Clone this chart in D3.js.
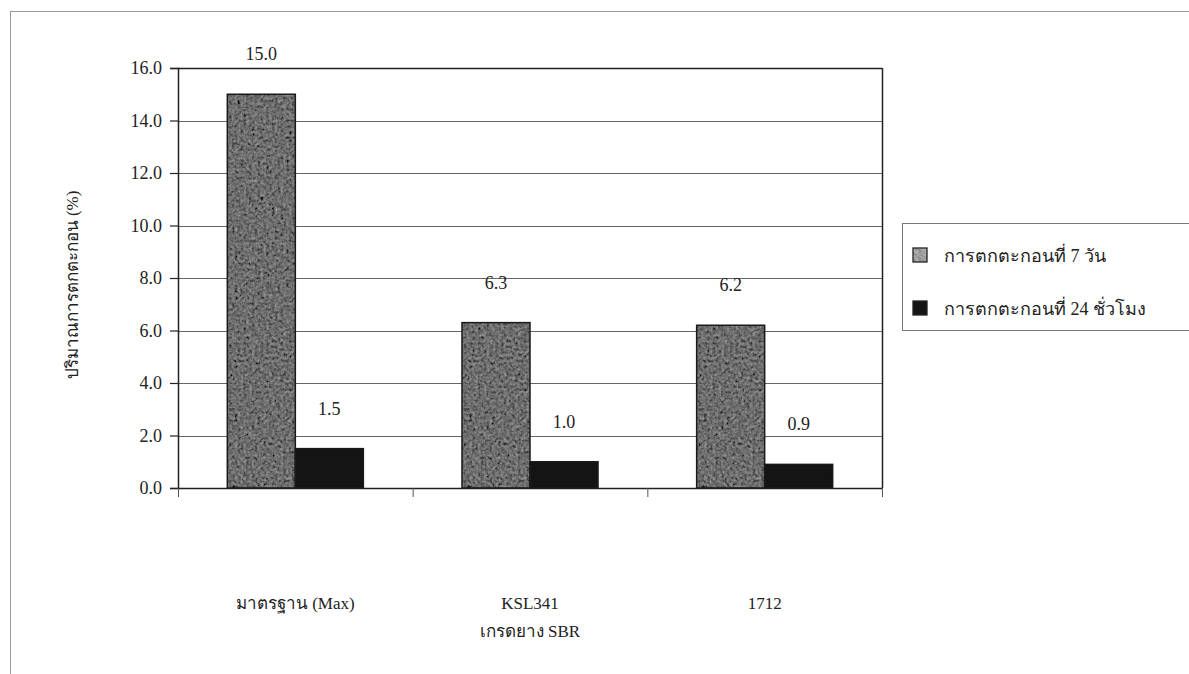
<!DOCTYPE html>
<html>
<head>
<meta charset="utf-8">
<script src="https://cdn.jsdelivr.net/npm/d3@7"></script>
<style>
  html, body { margin: 0; padding: 0; background: #fff; }
  svg { display: block; }
</style>
</head>
<body>
<svg id="chart" width="1189" height="674"></svg>
<script>
// Sedimentation of SBR grades (%)
const categories = ["มาตรฐาน (Max)", "KSL341", "1712"];
const seriesNames = ["การตกตะกอนที่ 7 วัน", "การตกตะกอนที่ 24 ชั่วโมง"];
const sevenDay = [15.0, 6.3, 6.2];
const twentyFourHour = [1.5, 1.0, 0.9];
const yTicks = [0, 2, 4, 6, 8, 10, 12, 14, 16];
const yTitle = "ปริมาณการตกตะกอน (%)";
const xTitle = "เกรดยาง SBR";

const FONT = "'Times New Roman', 'Liberation Serif', 'DejaVu Serif', serif";

const rows = categories.map((c, i) => ({
  cat: c,
  values: [
    { key: seriesNames[0], v: sevenDay[i] },
    { key: seriesNames[1], v: twentyFourHour[i] }
  ]
}));

const svg = d3.select("#chart");
const plot = { left: 178, right: 882, top: 68, bottom: 488 };

// mottled texture for the 7-day bars
const defs = svg.append("defs");
const f = defs.append("filter").attr("id", "grain")
  .attr("x", 0).attr("y", 0).attr("width", 1).attr("height", 1)
  .attr("filterUnits", "objectBoundingBox");
f.append("feTurbulence").attr("type", "fractalNoise")
  .attr("baseFrequency", 0.35).attr("numOctaves", 3).attr("seed", 11).attr("result", "noise");
f.append("feColorMatrix").attr("in", "noise").attr("type", "matrix")
  .attr("values", "0.33 0.33 0.33 0 0  0.33 0.33 0.33 0 0  0.33 0.33 0.33 0 0  0 0 0 0 1")
  .attr("result", "gray");
f.append("feComposite").attr("in", "SourceGraphic").attr("in2", "gray")
  .attr("operator", "arithmetic")
  .attr("k1", 0).attr("k2", 1).attr("k3", 0.7).attr("k4", -0.35).attr("result", "mix");
f.append("feComposite").attr("in", "mix").attr("in2", "SourceGraphic").attr("operator", "in");

// outer frame
svg.append("rect").attr("x", 10.5).attr("y", 11.5)
  .attr("width", 1200).attr("height", 700)
  .attr("fill", "none").attr("stroke", "#999").attr("stroke-width", 1);

const y = d3.scaleLinear().domain([0, 16]).range([plot.bottom, plot.top]);
const x0 = d3.scaleBand().domain(categories).range([plot.left, plot.right])
  .paddingInner(0).paddingOuter(0);
const x1 = d3.scaleBand().domain(seriesNames).range([0, x0.bandwidth()])
  .paddingInner(0).paddingOuter(0.725);
const fill = d3.scaleOrdinal().domain(seriesNames).range(["#6e6e6e", "#141414"]);

// gridlines
svg.append("g").selectAll("line").data(yTicks.filter(t => t > 0 && t < 16)).join("line")
  .attr("x1", plot.left).attr("x2", plot.right)
  .attr("y1", d => Math.round(y(d)) + 0.5).attr("y2", d => Math.round(y(d)) + 0.5)
  .attr("stroke", "#666").attr("stroke-width", 1.2);

// plot frame top & right
svg.append("line").attr("x1", plot.left).attr("x2", plot.right)
  .attr("y1", plot.top + 0.5).attr("y2", plot.top + 0.5)
  .attr("stroke", "#222").attr("stroke-width", 1.5);
svg.append("line").attr("x1", plot.right + 0.5).attr("x2", plot.right + 0.5)
  .attr("y1", plot.top).attr("y2", plot.bottom)
  .attr("stroke", "#222").attr("stroke-width", 1.5);

// bars: textured fill plus a crisp outline
const groups = svg.append("g").selectAll("g").data(rows).join("g")
  .attr("transform", d => `translate(${x0(d.cat)},0)`);
groups.selectAll("rect.fill").data(d => d.values).join("rect")
  .attr("class", "fill")
  .attr("x", d => x1(d.key))
  .attr("y", d => y(d.v))
  .attr("width", x1.bandwidth())
  .attr("height", d => plot.bottom - y(d.v))
  .attr("fill", d => fill(d.key))
  .attr("filter", (d, i) => i === 0 ? "url(#grain)" : null);
groups.selectAll("rect.edge").data(d => d.values).join("rect")
  .attr("class", "edge")
  .attr("x", d => x1(d.key))
  .attr("y", d => y(d.v))
  .attr("width", x1.bandwidth())
  .attr("height", d => plot.bottom - y(d.v))
  .attr("fill", "none")
  .attr("stroke", "#1a1a1a").attr("stroke-width", 1.5);

// value labels
groups.selectAll("text.val").data(d => d.values).join("text")
  .attr("class", "val")
  .attr("x", d => x1(d.key) + x1.bandwidth() / 2)
  .attr("y", d => y(d.v) - 34)
  .attr("text-anchor", "middle")
  .style("font-family", FONT).style("font-size", "18px").style("fill", "#222")
  .text(d => d.v.toFixed(1));

// y axis
const yAxis = d3.axisLeft(y).tickValues(yTicks).tickFormat(d3.format(".1f"))
  .tickSize(8).tickPadding(8);
const gy = svg.append("g").attr("transform", `translate(${plot.left},0)`).call(yAxis);
gy.select(".domain").attr("stroke", "#222").attr("stroke-width", 1.5);
gy.selectAll(".tick line").attr("stroke", "#222").attr("stroke-width", 1.2);
gy.selectAll(".tick text")
  .style("font-family", FONT).style("font-size", "18px").style("fill", "#222");

// x axis
const gx = svg.append("g").attr("transform", `translate(0,${plot.bottom})`);
gx.append("line").attr("x1", plot.left).attr("x2", plot.right)
  .attr("y1", 0.5).attr("y2", 0.5).attr("stroke", "#222").attr("stroke-width", 1.5);
const boundaries = categories.map(c => x0(c)).concat([plot.right]);
gx.selectAll("line.tk").data(boundaries).join("line").attr("class", "tk")
  .attr("x1", d => d + 0.5).attr("x2", d => d + 0.5)
  .attr("y1", 0).attr("y2", 9).attr("stroke", "#555").attr("stroke-width", 1);
gx.selectAll("text.cat").data(categories).join("text").attr("class", "cat")
  .attr("x", d => x0(d) + x0.bandwidth() / 2)
  .attr("y", 121)
  .attr("text-anchor", "middle")
  .style("font-family", FONT).style("font-size", "17px").style("fill", "#222")
  .text(d => d);

// axis titles
svg.append("text")
  .attr("transform", "translate(78,285) rotate(-90)")
  .attr("text-anchor", "middle")
  .style("font-family", FONT).style("font-size", "17px").style("fill", "#222")
  .text(yTitle);
svg.append("text")
  .attr("x", (plot.left + plot.right) / 2)
  .attr("y", 637)
  .attr("text-anchor", "middle")
  .style("font-family", FONT).style("font-size", "17px").style("fill", "#222")
  .text(xTitle);

// legend
const lg = svg.append("g");
lg.append("rect").attr("x", 902.5).attr("y", 223.5).attr("width", 300).attr("height", 107)
  .attr("fill", "#fff").attr("stroke", "#777").attr("stroke-width", 1);
const items = lg.selectAll("g.item").data(seriesNames).join("g").attr("class", "item")
  .attr("transform", (d, i) => `translate(913,${248 + i * 53})`);
items.append("rect").attr("width", 14).attr("height", 14)
  .attr("fill", (d, i) => i === 0 ? "#a0a0a0" : "#151515")
  .attr("filter", (d, i) => i === 0 ? "url(#grain)" : null);
items.append("rect").attr("width", 14).attr("height", 14)
  .attr("fill", "none").attr("stroke", "#222").attr("stroke-width", 1.3);
items.append("text").attr("x", 31).attr("y", 14)
  .style("font-family", FONT).style("font-size", "18px").style("fill", "#222")
  .text(d => d);
</script>
</body>
</html>
